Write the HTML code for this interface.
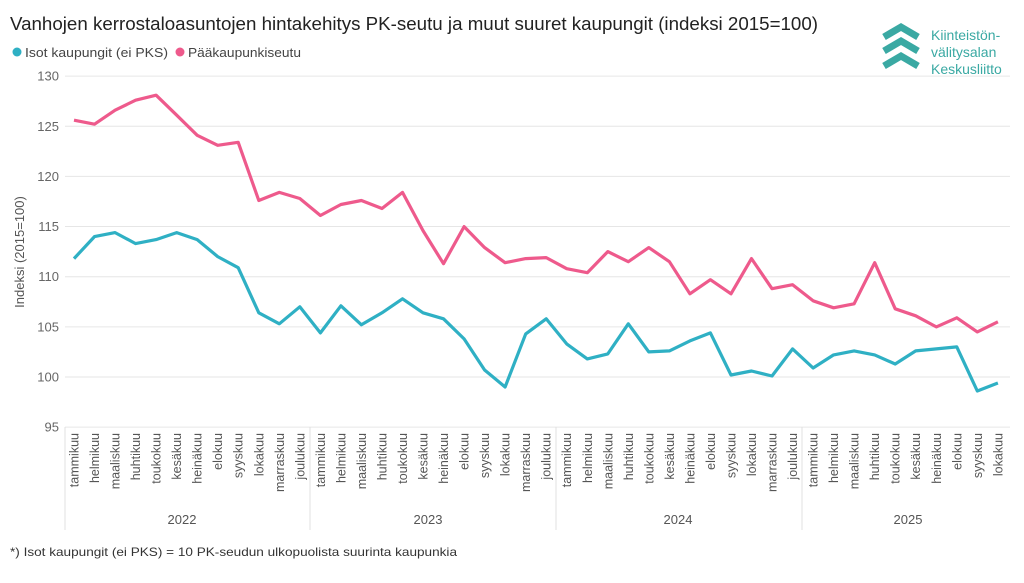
<!DOCTYPE html><html><head><meta charset="utf-8"><style>
body{margin:0;background:#fff;width:1024px;height:578px;overflow:hidden;font-family:"Liberation Sans",sans-serif}
</style></head><body>
<svg id="s" width="1024" height="578" xmlns="http://www.w3.org/2000/svg" font-family="Liberation Sans, sans-serif">
<text x="10" y="30" font-size="18" fill="#222" textLength="808" lengthAdjust="spacingAndGlyphs">Vanhojen kerrostaloasuntojen hintakehitys PK-seutu ja muut suuret kaupungit (indeksi 2015=100)</text>
<circle cx="17" cy="52" r="4.5" fill="#2fb0c4"/><text x="25" y="57" font-size="13" fill="#444" textLength="143" lengthAdjust="spacingAndGlyphs">Isot kaupungit (ei PKS)</text>
<circle cx="180" cy="52" r="4.5" fill="#ee5a8c"/><text x="188" y="57" font-size="13" fill="#444" textLength="113" lengthAdjust="spacingAndGlyphs">Pääkaupunkiseutu</text>
<g fill="none" stroke="#3aa9a3" stroke-width="7" stroke-linejoin="miter">
<polyline points="884,37 901,27 918,37"/><polyline points="884,51 901,41 918,51"/><polyline points="884,66 901,56 918,66"/></g>
<g font-size="14" fill="#3aa9a3"><text x="931" y="40">Kiinteistön-</text><text x="931" y="57">välitysalan</text><text x="931" y="74">Keskusliitto</text></g>
<text transform="translate(24,252) rotate(-90)" text-anchor="middle" font-size="13" fill="#555">Indeksi (2015=100)</text>
<g id="g"></g>
<text x="10" y="556" font-size="12" fill="#333" textLength="447" lengthAdjust="spacingAndGlyphs">*) Isot kaupungit (ei PKS) = 10 PK-seudun ulkopuolista suurinta kaupunkia</text>
</svg>
<script>
var P=[125.6,125.2,126.6,127.6,128.1,126.1,124.1,123.1,123.4,117.6,118.4,117.8,116.1,117.2,117.6,116.8,118.4,114.6,111.3,115.0,112.9,111.4,111.8,111.9,110.8,110.4,112.5,111.5,112.9,111.5,108.3,109.7,108.3,111.8,108.8,109.2,107.6,106.9,107.3,111.4,106.8,106.1,105.0,105.9,104.5,105.5];
var B=[111.8,114.0,114.4,113.3,113.7,114.4,113.7,112.0,110.9,106.4,105.3,107.0,104.4,107.1,105.2,106.4,107.8,106.4,105.8,103.8,100.7,99.0,104.3,105.8,103.3,101.8,102.3,105.3,102.5,102.6,103.6,104.4,100.2,100.6,100.1,102.8,100.9,102.2,102.6,102.2,101.3,102.6,102.8,103.0,98.6,99.4];
var M=["tammikuu","helmikuu","maaliskuu","huhtikuu","toukokuu","kesäkuu","heinäkuu","elokuu","syyskuu","lokakuu","marraskuu","joulukuu"];
function X(i){return 74+i*20.53}function Y(v){return 377-(v-100)*10.03}
var h="";
for(var v=95;v<=130;v+=5){h+='<line x1="65" x2="1010" y1="'+Y(v)+'" y2="'+Y(v)+'" stroke="#e6e6e6"/><text x="59" y="'+(Y(v)+4.5)+'" text-anchor="end" font-size="13" fill="#666">'+v+'</text>';}
for(var i=0;i<46;i++){h+='<text transform="translate('+(X(i)+4.5)+',433) rotate(-90)" text-anchor="end" font-size="12.5" fill="#555">'+M[i%12]+'</text>';}
[65,310,556,802].forEach(function(x){h+='<line x1="'+x+'" x2="'+x+'" y1="427" y2="530" stroke="#e0e0e0"/>'});
[[182,"2022"],[428,"2023"],[678,"2024"],[908,"2025"]].forEach(function(a){h+='<text x="'+a[0]+'" y="524" text-anchor="middle" font-size="13" fill="#555">'+a[1]+'</text>'});
function L(d,c){return '<polyline fill="none" stroke="'+c+'" stroke-width="3.2" stroke-linejoin="round" points="'+d.map(function(v,i){return X(i).toFixed(1)+','+Y(v).toFixed(1)}).join(' ')+'"/>'}
h+=L(B,"#2fb0c4")+L(P,"#ee5a8c");
document.getElementById("g").innerHTML=h;
</script>
</body></html>
